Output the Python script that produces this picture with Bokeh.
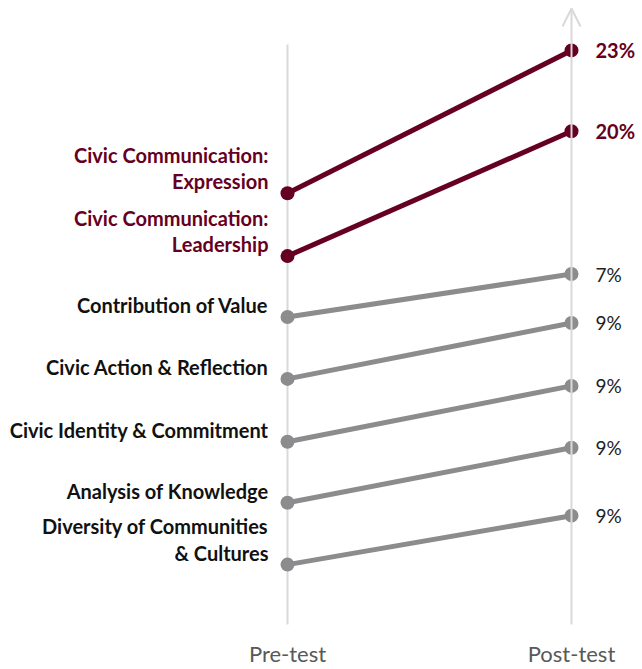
from bokeh.plotting import figure
from bokeh.models import Range1d, ColumnDataSource, FixedTicker, Arrow, OpenHead
from bokeh.core.properties import value
from bokeh.embed import file_html
from bokeh.resources import INLINE

# ---- data ----
categories = ["Pre-test", "Post-test"]
skills = [
    "Civic Communication:\nExpression",
    "Civic Communication:\nLeadership",
    "Contribution of Value",
    "Civic Action & Reflection",
    "Civic Identity & Commitment",
    "Analysis of Knowledge",
    "Diversity of Communities\n& Cultures",
]
pre_scores = [4.34, 3.71, 3.10, 2.48, 1.85, 1.24, 0.62]
post_scores = [5.77, 4.96, 3.53, 3.04, 2.41, 1.79, 1.11]
change_labels = ["23%", "20%", "7%", "9%", "9%", "9%", "9%"]
highlight = [True, True, False, False, False, False, False]

# ---- style ----
RED = "#660022"
GRAY = "#8c8c8e"
AXIS = "#d9d9d9"
FONT = "Lato"

colors = [RED if h else GRAY for h in highlight]
label_colors = [RED if h else "#111111" for h in highlight]
pct_colors = [RED if h else "#222222" for h in highlight]
pct_styles = ["bold" if h else "normal" for h in highlight]
pct_sizes = ["20px" if h else "19px" for h in highlight]

p = figure(width=642, height=669, output_backend="svg", toolbar_location=None,
           x_range=Range1d(-1.0106, 1.25), y_range=Range1d(0.02, 6.27),
           min_border_left=0, min_border_right=0, min_border_top=0, min_border_bottom=44)
p.outline_line_color = None
p.grid.visible = False
p.yaxis.visible = False

xa = p.xaxis[0]
xa.ticker = FixedTicker(ticks=[0, 1])
xa.major_label_overrides = {0: categories[0], 1: categories[1]}
xa.axis_line_color = None
xa.major_tick_line_color = None
xa.minor_tick_line_color = None
xa.major_label_text_font = FONT
xa.major_label_text_font_size = "22px"
xa.major_label_text_color = "#595959"
xa.major_label_standoff = 9

# vertical category lines
p.segment(x0=[0], y0=[0], x1=[0], y1=[5.83], line_color=AXIS, line_width=2)
p.add_layout(Arrow(end=OpenHead(size=18, line_color=AXIS, line_width=2),
                   x_start=1, y_start=0, x_end=1, y_end=6.19,
                   line_color=AXIS, line_width=2))

# draw gray first, then red on top
order = [i for i in range(len(skills)) if not highlight[i]] + [i for i in range(len(skills)) if highlight[i]]
for i in order:
    p.line([0, 1], [pre_scores[i], post_scores[i]], line_color=colors[i], line_width=5)
    p.scatter([0, 1], [pre_scores[i], post_scores[i]], size=14, fill_color=colors[i], line_color=None)

src = ColumnDataSource(dict(x0=[0] * len(skills), x1=[1] * len(skills), pre=pre_scores, post=post_scores,
                            label=skills, pct=change_labels, lc=label_colors, pc=pct_colors,
                            ps=pct_styles, pz=pct_sizes))

p.text(x="x0", y="pre", text="label", source=src, text_align="right", text_baseline="bottom",
       x_offset=-19, y_offset=0, text_font=value(FONT), text_font_style="bold",
       text_font_size="20px", text_color="lc", text_line_height=1.1)

p.text(x="x1", y="post", text="pct", source=src, text_align="left", text_baseline="middle",
       x_offset=24, text_font=value(FONT), text_font_style="ps",
       text_font_size="pz", text_color="pc")

open("out.html", "w").write(file_html(p, INLINE))
